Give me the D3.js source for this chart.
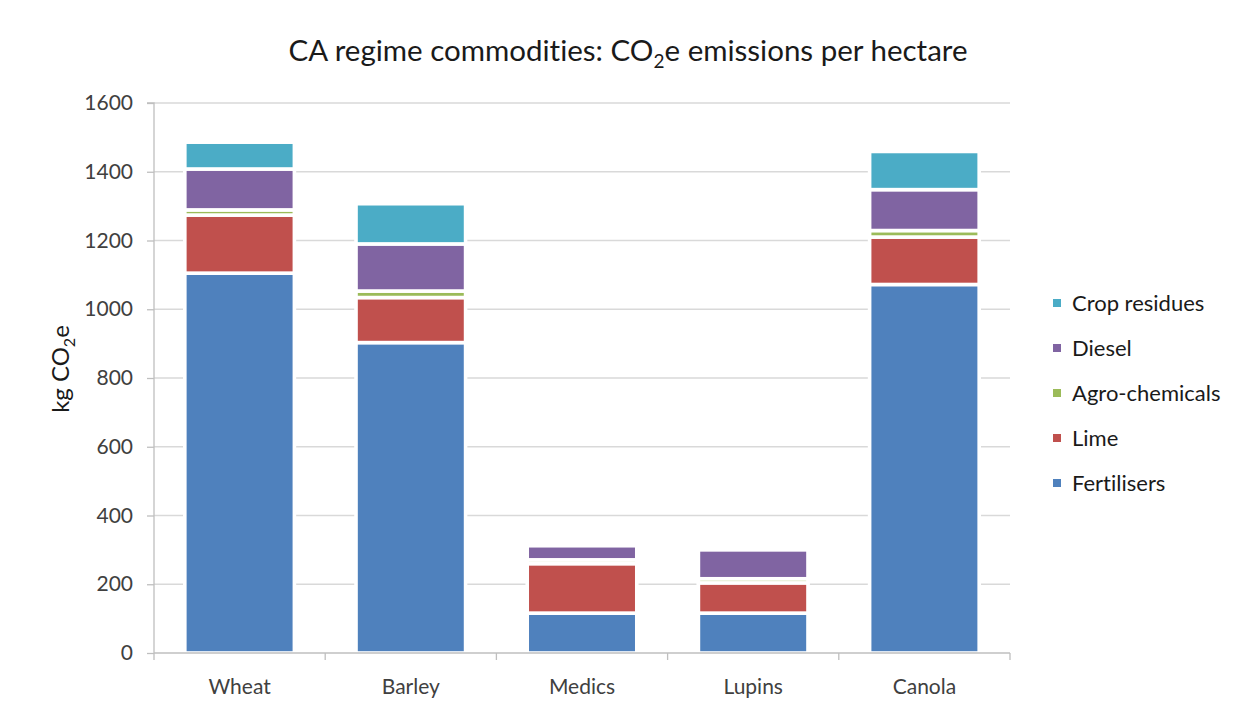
<!DOCTYPE html>
<html>
<head>
<meta charset="utf-8">
<script src="https://cdn.jsdelivr.net/npm/d3@7"></script>
<style>
  html, body { margin: 0; padding: 0; background: #fff; }
  svg { display: block; font-family: Lato, "Open Sans", sans-serif; font-variant-ligatures: none; font-feature-settings: "liga" 0, "clig" 0; }
</style>
</head>
<body>
<svg id="chart" width="1245" height="709"></svg>
<script>
// ---- data ----
const categories = ["Wheat", "Barley", "Medics", "Lupins", "Canola"];
const seriesNames = ["Fertilisers", "Lime", "Agro-chemicals", "Diesel", "Crop residues"];
const fertilisers   = [1105, 903, 116, 116, 1072];
const lime          = [169, 131, 144, 88, 138];
const agroChemicals = [15, 19, 11, 12, 19];
const diesel        = [119, 137, 41, 84, 119];
const cropResidues  = [78, 117, 0, 0, 111];
const yTicks = [0, 200, 400, 600, 800, 1000, 1200, 1400, 1600];
const seriesColors = ["#4F81BD", "#C0504D", "#9BBB59", "#8064A2", "#4BACC6"];

const seriesValues = [fertilisers, lime, agroChemicals, diesel, cropResidues];
const rows = categories.map((c, i) => {
  const r = { category: c };
  seriesNames.forEach((s, j) => r[s] = seriesValues[j][i]);
  return r;
});

const svg = d3.select("#chart");
const margin = { left: 154, right: 1010, top: 103, bottom: 653 };

const x = d3.scaleBand().domain(categories).range([margin.left, margin.right]).paddingInner(0.36).paddingOuter(0.18);
const y = d3.scaleLinear().domain([0, 1600]).range([margin.bottom, margin.top]);
const color = d3.scaleOrdinal().domain(seriesNames).range(seriesColors);

// gridlines
svg.append("g").selectAll("line").data(yTicks.filter(d => d > 0)).join("line")
  .attr("x1", margin.left).attr("x2", margin.right)
  .attr("y1", d => y(d)).attr("y2", d => y(d))
  .attr("stroke", "#D9D9D9").attr("stroke-width", 1.3);

// bars
const stack = d3.stack().keys(seriesNames);
const layers = stack(rows);
svg.append("g").selectAll("g").data(layers).join("g")
  .attr("fill", d => color(d.key))
  .selectAll("rect").data(d => d.filter(p => p[1] - p[0] > 0)).join("rect")
  .attr("x", d => x(d.data.category))
  .attr("width", x.bandwidth())
  .attr("y", d => y(d[1]))
  .attr("height", d => y(d[0]) - y(d[1]))
  .attr("stroke", "#fff").attr("stroke-width", 3.6);

// y axis
const yAxis = d3.axisLeft(y).tickValues(yTicks).tickFormat(d3.format("d")).tickSize(7).tickPadding(14);
const gy = svg.append("g").attr("transform", `translate(${margin.left},0)`).call(yAxis);
gy.select(".domain").attr("stroke", "#BFBFBF").attr("stroke-width", 1.3).attr("d", `M-7,${margin.top}H0V${margin.bottom}`);
gy.selectAll(".tick line").attr("stroke", "#BFBFBF").attr("stroke-width", 1.3);
gy.selectAll(".tick text").attr("fill", "#404040").style("font-size", "21px").attr("font-family", "Lato");

// x axis
const xAxis = d3.axisBottom(x).tickSize(0).tickPadding(26);
const gx = svg.append("g").attr("transform", `translate(0,${margin.bottom})`).call(xAxis);
gx.select(".domain").attr("stroke", "#BFBFBF").attr("stroke-width", 1.3).attr("d", `M${margin.left},0H${margin.right}`);
gx.selectAll(".tick text").attr("fill", "#404040").style("font-size", "21px").attr("font-family", "Lato");
// category separator ticks
const sepPositions = d3.range(categories.length + 1).map(i => margin.left + i * (margin.right - margin.left) / categories.length);
gx.append("g").selectAll("line").data(sepPositions).join("line")
  .attr("x1", d => d).attr("x2", d => d).attr("y1", 0).attr("y2", 7)
  .attr("stroke", "#BFBFBF").attr("stroke-width", 1.3);

// title
const title = svg.append("text").attr("x", 628).attr("y", 61).attr("text-anchor", "middle")
  .attr("fill", "#1a1a1a").style("font-size", "29.5px");
title.append("tspan").text("CA regime commodities: CO");
title.append("tspan").attr("dy", 7).style("font-size", "19px").text("2");
title.append("tspan").attr("dy", -7).text("e emissions per hectare");

// y axis label
const yl = svg.append("text").attr("transform", "translate(69,369) rotate(-90)").attr("text-anchor", "middle")
  .attr("fill", "#1a1a1a").style("font-size", "24px");
yl.append("tspan").text("kg CO");
yl.append("tspan").attr("dy", 6).style("font-size", "16px").text("2");
yl.append("tspan").attr("dy", -6).text("e");

// legend (reverse order)
const legendItems = seriesNames.slice().reverse();
const lg = svg.append("g").selectAll("g").data(legendItems).join("g")
  .attr("transform", (d, i) => `translate(1053,${303 + i * 45})`);
lg.append("rect").attr("x", 0).attr("y", -4).attr("width", 8).attr("height", 8).attr("fill", d => color(d));
lg.append("text").attr("x", 19).attr("y", 0).attr("dy", "0.35em").attr("fill", "#1a1a1a")
  .style("font-size", "22px").text(d => d);
</script>
</body>
</html>
